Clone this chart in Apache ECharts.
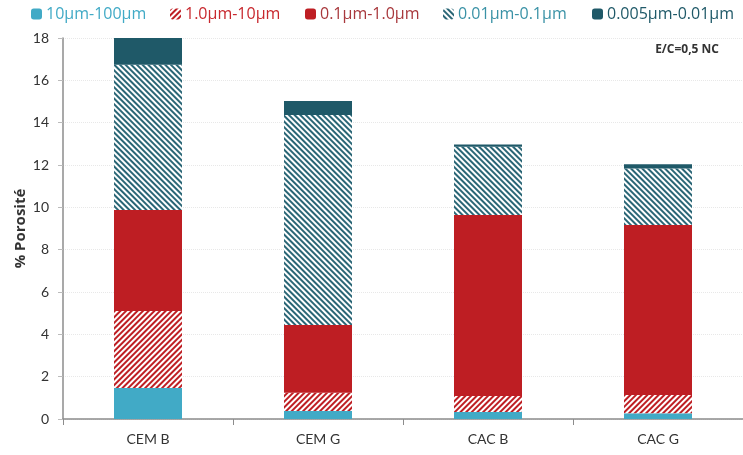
<!DOCTYPE html>
<html><head><meta charset="utf-8">
<script src="https://cdn.jsdelivr.net/npm/echarts@6/dist/echarts.min.js"></script>
<style>html,body{margin:0;padding:0;background:#fff}#c{width:743px;height:455px}</style>
</head><body><div id="c"></div>
<script>
const categories = ['CEM B', 'CEM G', 'CAC B', 'CAC G'];
const seriesNames = ['10µm-100µm', '1.0µm-10µm', '0.1µm-1.0µm', '0.01µm-0.1µm', '0.005µm-0.01µm'];
const s10_100 = [1.47, 0.38, 0.33, 0.27];
const s1_10 = [3.63, 0.86, 0.76, 0.86];
const s01_1 = [4.77, 3.20, 8.55, 8.03];
const s001_01 = [6.87, 9.92, 3.22, 2.68];
const s0005_001 = [1.26, 0.66, 0.11, 0.19];
const yTicks = [0, 2, 4, 6, 8, 10, 12, 14, 16, 18];

const FONT = 'Lato';
const LFONT = 'Open Sans';
const LBLUE = '#41AAC6', RED = '#BE1E23', TEAL = '#2A6676', DARK = '#1F5968';
const legendColors = [LBLUE, '#C8282E', '#A8383C', '#3A92A6', DARK];
const legendLeft = [31, 170, 305, 443, 592];

function hatch(color, rot) {
  return { color: color, symbol: 'rect', dashArrayX: [1, 0], dashArrayY: [1.85, 1.85], rotation: rot, symbolSize: 1 };
}
const chart = echarts.init(document.getElementById('c'), null, { renderer: 'canvas' });
const mk = (name, data, style) => ({
  name, type: 'bar', stack: 'total', data, barWidth: '40%', itemStyle: style
});
chart.setOption({
  animation: false,
  backgroundColor: '#fff',
  textStyle: { fontFamily: FONT },
  legend: seriesNames.map((n, i) => ({
    top: 6, left: legendLeft[i], padding: 0, itemWidth: 11, itemHeight: 11,
    data: [{ name: n }],
    textStyle: { fontSize: 16, fontFamily: LFONT, color: legendColors[i], padding: [0, 0, 0, -1] }
  })),
  grid: { left: 63, right: 0, top: 38, bottom: 36 },
  xAxis: {
    type: 'category', data: categories,
    axisLine: { lineStyle: { color: '#8c8c8c', width: 1.5 } },
    axisTick: { show: true, length: 6, lineStyle: { color: '#8c8c8c' } },
    axisLabel: { color: '#333', fontSize: 14, fontFamily: FONT, margin: 13 }
  },
  yAxis: {
    type: 'value', min: 0, max: 18, interval: 2,
    name: '% Porosité', nameLocation: 'middle', nameGap: 35, nameRotate: 90,
    nameMoveOverlap: false,
    nameTextStyle: { fontSize: 15, fontWeight: 'bold', color: '#333', fontFamily: LFONT },
    axisLine: { show: true, lineStyle: { color: '#8c8c8c', width: 1.5 } },
    axisTick: { show: true, length: 5, lineStyle: { color: '#bbb' } },
    axisLabel: { color: '#333', fontSize: 14, fontFamily: FONT, margin: 14,
      formatter: v => yTicks.includes(v) ? String(v) : '' },
    splitLine: { lineStyle: { color: '#e8e8e8', type: 'dotted' } }
  },
  graphic: [{
    type: 'text', right: 24, top: 44,
    style: { text: 'E/C=0,5 NC', fontSize: 12, fontWeight: 'bold', fill: '#333', fontFamily: LFONT }
  }],
  series: [
    mk(seriesNames[0], s10_100, { color: LBLUE }),
    mk(seriesNames[1], s1_10, { color: '#ffffff', decal: hatch(RED, -Math.PI / 4) }),
    mk(seriesNames[2], s01_1, { color: RED }),
    mk(seriesNames[3], s001_01, { color: '#ffffff', decal: hatch(TEAL, Math.PI / 4) }),
    mk(seriesNames[4], s0005_001, { color: DARK })
  ]
});
</script></body></html>
